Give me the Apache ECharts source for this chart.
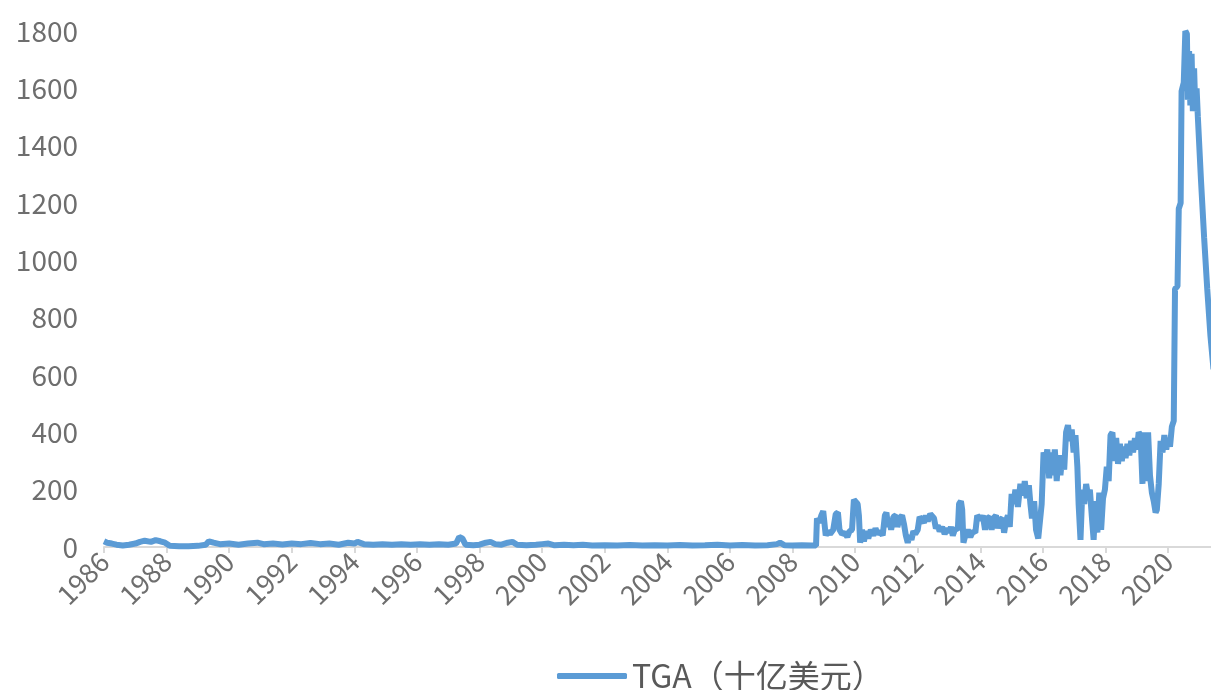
<!DOCTYPE html>
<html>
<head>
<meta charset="utf-8">
<script src="https://cdn.jsdelivr.net/npm/echarts@6/dist/echarts.min.js"></script>
<style>
  html, body { margin: 0; padding: 0; background: #fff; }
  #main { width: 1211px; height: 690px; }
</style>
</head>
<body>
<div id="main"></div>
<script>
// 时间（小数年份）
const dates = [
  1986.0, 1986.1, 1986.25, 1986.4, 1986.6, 1986.8, 1987.0, 1987.15, 1987.3, 1987.5, 1987.65, 1987.8, 1987.95,
  1988.1, 1988.4, 1988.7, 1989.0, 1989.25, 1989.35, 1989.5, 1989.7, 1990.0, 1990.3, 1990.6, 1990.9,
  1991.1, 1991.4, 1991.7, 1992.0, 1992.3, 1992.6, 1992.9, 1993.2, 1993.5, 1993.8, 1994.0, 1994.1, 1994.3,
  1994.6, 1994.9, 1995.2, 1995.5, 1995.8, 1996.1, 1996.4, 1996.7, 1997.0, 1997.25, 1997.35, 1997.45,
  1997.55, 1997.8, 1998.0, 1998.2, 1998.35, 1998.5, 1998.7, 1998.9, 1999.05, 1999.2, 1999.5, 1999.8,
  2000.0, 2000.2, 2000.4, 2000.7, 2001.0, 2001.3, 2001.6, 2002.0, 2002.4, 2002.8, 2003.2, 2003.6,
  2004.0, 2004.4, 2004.8, 2005.2, 2005.6, 2006.0, 2006.4, 2006.8, 2007.2, 2007.5, 2007.6, 2007.75,
  2008.0, 2008.3, 2008.6, 2008.75,
  2008.78, 2008.85, 2008.92, 2008.98, 2009.02, 2009.06, 2009.12, 2009.2, 2009.3, 2009.38, 2009.45,
  2009.5, 2009.58, 2009.66, 2009.75, 2009.82, 2009.9, 2009.96, 2010.02, 2010.08, 2010.12, 2010.16,
  2010.22, 2010.28, 2010.35, 2010.42, 2010.5, 2010.58, 2010.65, 2010.72, 2010.8, 2010.88, 2010.95,
  2011.0, 2011.05, 2011.1, 2011.15, 2011.22, 2011.3, 2011.35, 2011.42, 2011.5, 2011.56, 2011.62,
  2011.68, 2011.74, 2011.8, 2011.86, 2011.92, 2012.0, 2012.06, 2012.12, 2012.2, 2012.26, 2012.32,
  2012.4, 2012.46, 2012.52, 2012.58, 2012.64, 2012.7, 2012.78, 2012.86, 2012.94, 2013.0, 2013.06,
  2013.12, 2013.2, 2013.28, 2013.32, 2013.38, 2013.42, 2013.46, 2013.52, 2013.6, 2013.68, 2013.76,
  2013.84, 2013.9, 2013.96, 2014.02, 2014.08, 2014.15, 2014.22, 2014.3, 2014.36, 2014.42, 2014.5,
  2014.56, 2014.62, 2014.7, 2014.76, 2014.82, 2014.88, 2014.94, 2015.0, 2015.06, 2015.12, 2015.2,
  2015.28, 2015.36, 2015.42, 2015.48, 2015.55, 2015.6, 2015.65, 2015.72, 2015.78, 2015.85, 2015.9,
  2015.96, 2016.02, 2016.08, 2016.14, 2016.2, 2016.26, 2016.32, 2016.38, 2016.44, 2016.5, 2016.56,
  2016.62, 2016.68, 2016.74, 2016.8, 2016.86, 2016.92, 2016.98, 2017.04, 2017.1, 2017.14, 2017.2,
  2017.26, 2017.32, 2017.38, 2017.44, 2017.5, 2017.56, 2017.62, 2017.68, 2017.74, 2017.8, 2017.86,
  2017.92, 2017.98, 2018.04, 2018.1, 2018.16, 2018.22, 2018.28, 2018.34, 2018.4, 2018.46, 2018.52,
  2018.58, 2018.64, 2018.7, 2018.76, 2018.82, 2018.88, 2018.94, 2019.0, 2019.06, 2019.12, 2019.18,
  2019.24, 2019.3, 2019.36, 2019.42, 2019.48, 2019.54, 2019.6, 2019.64, 2019.7, 2019.76, 2019.82,
  2019.88, 2019.94, 2020.0, 2020.06, 2020.12, 2020.18, 2020.22, 2020.3, 2020.34, 2020.4, 2020.43,
  2020.5, 2020.55, 2020.6, 2020.63, 2020.67, 2020.71, 2020.75, 2020.79, 2020.83, 2020.87, 2020.91,
  2020.95, 2021.05, 2021.15, 2021.25, 2021.35, 2021.45
];
// TGA余额（十亿美元）
const tga = [
  20, 15, 12, 8, 5, 8, 12, 18, 22, 18, 24, 20, 15,
  4, 3, 3, 4, 8, 20, 15, 10, 12, 8, 12, 15,
  10, 12, 9, 12, 10, 14, 10, 12, 8, 15, 12, 18, 10,
  8, 10, 8, 10, 8, 10, 8, 10, 8, 12, 35, 30,
  8, 6, 8, 15, 18, 10, 8, 15, 18, 8, 6, 8,
  10, 12, 6, 8, 6, 8, 5, 6, 5, 7, 5, 6,
  5, 7, 5, 6, 8, 5, 7, 5, 6, 10, 15, 6,
  5, 6, 5, 5,
  100, 85, 110, 125, 120, 40, 55, 45, 60, 115, 120,
  60, 45, 50, 35, 55, 60, 165, 170, 150, 110, 15,
  60, 20, 55, 30, 60, 40, 65, 45, 55, 40, 110,
  120, 70, 90, 60, 105, 110, 70, 100, 110, 80, 40,
  15, 40, 25, 55, 45, 60, 105, 110, 85, 110, 90,
  115, 120, 100, 65, 75, 55, 70, 45, 65, 50, 70,
  40, 65, 60, 150, 160, 130, 15, 40, 60, 35, 55,
  50, 110, 115, 95, 110, 60, 100, 105, 60, 100, 110,
  65, 95, 100, 50, 90, 110, 70, 185, 150, 200, 140,
  220, 180, 230, 170, 215, 150, 100, 160, 60, 30, 25,
  150, 330, 300, 340, 240, 330, 250, 340, 230, 320, 250,
  320, 270, 400, 425, 370, 410, 330, 390, 280, 150, 25,
  200, 150, 220, 180, 200, 110, 25, 160, 50, 190, 60,
  170, 200, 280, 230, 390, 400, 300, 380, 290, 360, 300,
  350, 310, 360, 320, 370, 330, 380, 340, 400, 390, 220,
  400, 230, 400, 250, 190, 160, 120, 130, 220, 370, 330,
  390, 340, 380, 350, 420, 440, 900, 910, 1180, 1200, 1590,
  1620, 1800, 1790, 1560, 1730, 1540, 1720, 1520, 1670, 1520, 1600,
  1500, 1280, 1080, 900, 740, 620
];
const yTicks = [0, 200, 400, 600, 800, 1000, 1200, 1400, 1600, 1800];
const seriesName = "TGA（十亿美元）";

const mychart = echarts.init(document.getElementById("main"));
const option = {
  animation: false,
  grid: {
    left: 104,
    right: 0,
    top: 31,
    bottom: 143,
  },
  xAxis: {
    type: "value",
    min: 1986,
    max: 2021.37,
    interval: 2,
    splitLine: { show: false },
    axisLine: { lineStyle: { color: "#d9d9d9", width: 2 } },
    axisTick: { show: true, length: 6, lineStyle: { color: "#d9d9d9", width: 2 } },
    axisLabel: {
      rotate: 45,
      color: "#6e6e6e",
      fontSize: 27,
      fontFamily: "Noto Sans CJK SC",
      margin: 10,
      showMaxLabel: false,
      formatter: (v) => (Number.isInteger(v) && v % 2 === 0 ? String(v) : ""),
    },
  },
  yAxis: {
    type: "value",
    min: yTicks[0],
    max: yTicks[yTicks.length - 1],
    interval: 200,
    splitLine: { show: false },
    axisLine: { show: false },
    axisTick: { show: false },
    axisLabel: {
      color: "#6e6e6e",
      fontSize: 28,
      fontFamily: "Noto Sans CJK SC",
      margin: 26,
      formatter: (v) => String(v),
    },
  },
  legend: {
    data: [{ name: seriesName, icon: "roundRect" }],
    left: 552,
    top: 655,
    itemWidth: 70,
    itemHeight: 6,
    itemGap: 8,
    textStyle: {
      color: "#595959",
      fontSize: 32,
      fontFamily: "Noto Sans CJK SC",
    },
  },
  series: [
    {
      name: seriesName,
      type: "line",
      data: dates.map((d, i) => [d, tga[i]]),
      showSymbol: false,
      symbol: "none",
      lineStyle: { color: "#5b9bd5", width: 6 },
      itemStyle: { color: "#5b9bd5" },
    },
  ],
};
mychart.setOption(option);
</script>
</body>
</html>
